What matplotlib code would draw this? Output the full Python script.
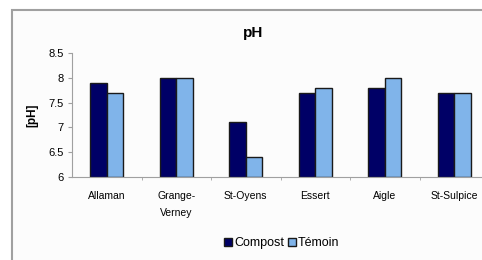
import numpy as np
import matplotlib.pyplot as plt
from matplotlib.patches import Rectangle

sites = ["Allaman", "Grange-\nVerney", "St-Oyens", "Essert", "Aigle", "St-Sulpice"]
compost = [7.9, 8.0, 7.1, 7.7, 7.8, 7.7]
temoin = [7.7, 8.0, 6.4, 7.8, 8.0, 7.7]
yticks = [6, 6.5, 7, 7.5, 8, 8.5]
ytick_labels = ["6", "6.5", "7", "7.5", "8", "8.5"]

plt.rcParams["font.family"] = ["Liberation Sans", "DejaVu Sans"]

W, H = 482, 260
fig = plt.figure(figsize=(W / 100, H / 100), dpi=100)
fig.patch.set_facecolor("white")

# chart area frame (gray border at top and left)
frame = Rectangle((12 / W, -0.05), 1.0, (H - 10) / H + 0.05, transform=fig.transFigure,
                  facecolor="#fcfcfc", edgecolor="#a0a0a0", linewidth=1.5, zorder=-1)
fig.patches.append(frame)

ax = fig.add_axes([72 / W, 1 - 177 / H, (489 - 72) / W, (177 - 53) / H])
ax.set_facecolor("none")
ax.set_zorder(1)

x = np.arange(len(sites))
bw = 0.235
ax.bar(x - bw / 2, [v - 6 for v in compost], bw, bottom=6, color="#000066",
       edgecolor="#1a1a1a", linewidth=1.0, label="Compost")
ax.bar(x + bw / 2, [v - 6 for v in temoin], bw, bottom=6, color="#80b4ea",
       edgecolor="#1a1a1a", linewidth=1.0, label="Témoin")

ax.set_xlim(-0.5, len(sites) - 0.5)
ax.set_ylim(6, 8.5)
ax.set_yticks(yticks)
ax.set_yticklabels(ytick_labels, fontsize=8)
ax.set_xticks(x)
ax.set_xticklabels(sites, fontsize=7.5, linespacing=1.9)
ax.tick_params(axis="x", length=0, pad=10)
ax.set_xticks(np.arange(len(sites)) + 0.5, minor=True)
ax.tick_params(axis="x", which="minor", length=2, color="#a0a0a0")
ax.tick_params(axis="y", length=3, color="#a0a0a0", pad=3)

for s in ["top", "right"]:
    ax.spines[s].set_visible(False)
ax.spines["left"].set_color("#a0a0a0")
ax.spines["bottom"].set_color("#a0a0a0")

ax.set_ylabel("[pH]", fontsize=8.5, fontweight="bold", labelpad=7)
fig.text(253 / W, 1 - 33 / H, "pH", ha="center", va="center", fontsize=11, fontweight="bold")

fig.legend(loc="center", bbox_to_anchor=(282 / W, 1 - 243 / H), ncol=2, frameon=False,
           fontsize=9, handlelength=0.6, handleheight=0.6, handletextpad=0.2,
           columnspacing=0.3)

fig.savefig("out.png", dpi=100)
